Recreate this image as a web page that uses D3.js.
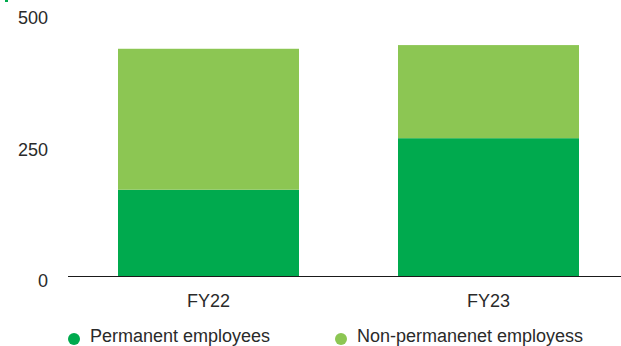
<!DOCTYPE html>
<html>
<head>
<meta charset="utf-8">
<script src="https://cdn.jsdelivr.net/npm/d3@7"></script>
<style>
html,body{margin:0;padding:0;background:#fff;}
svg{display:block;}
text{font-family:"Liberation Sans",Arial,sans-serif;fill:#2a2a2a;}
</style>
</head>
<body>
<svg id="chart" width="621" height="346"></svg>
<script>
const categories = ["FY22", "FY23"];
const permanent = [164, 262];
const nonPermanent = [268, 177];
const yTicks = [0, 250, 500];
const seriesNames = ["Permanent employees", "Non-permanenet employess"];
const colors = ["#00aa4e", "#8cc653"];

const svg = d3.select("#chart");
const x = d3.scaleBand().domain(categories).range([118, 579]).paddingInner(0.3536).paddingOuter(0);
const y = d3.scaleLinear().domain([0, 500]).range([276, 13]);

// decorative mark
svg.append("rect").attr("x",5).attr("y",0).attr("width",3).attr("height",2).attr("fill",colors[0]);

const data = categories.map((c,i)=>({cat:c, p:permanent[i], n:nonPermanent[i]}));
const stack = d3.stack().keys(["p","n"])(data);

const cx = c => x(c) + x.bandwidth()/2;

stack.forEach((layer, li) => {
  svg.append("g").selectAll("rect").data(layer).enter().append("rect")
    .attr("x", d => x(d.data.cat))
    .attr("width", x.bandwidth())
    .attr("y", d => y(d[1]))
    .attr("height", d => y(d[0]) - y(d[1]))
    .attr("fill", colors[li]);
});

// baseline
svg.append("line").attr("x1",68).attr("x2",621).attr("y1",y(0)+0.5).attr("y2",y(0)+0.5)
  .attr("stroke","#1a1a1a").attr("stroke-width",1);

// y labels
svg.append("g").selectAll("text").data(yTicks).enter().append("text")
  .attr("x",48).attr("y",d=>y(d)+5).attr("dy","0.35em")
  .attr("text-anchor","end").attr("font-size",18).text(d=>d);

// x labels
svg.append("g").selectAll("text").data(categories).enter().append("text")
  .attr("x",d=>cx(d)).attr("y",307)
  .attr("text-anchor","middle").attr("font-size",18).text(d=>d);

// legend
const legX = [74, 341];
seriesNames.forEach((s,i)=>{
  svg.append("circle").attr("cx",legX[i]).attr("cy",339).attr("r",6).attr("fill",colors[i]);
  svg.append("text").attr("x",legX[i]+16).attr("y",342).attr("font-size",18).text(s);
});
</script>
</body>
</html>
